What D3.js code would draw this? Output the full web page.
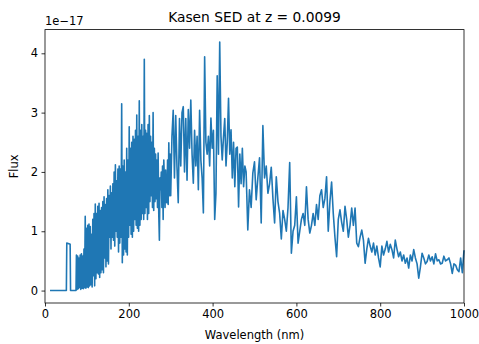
<!DOCTYPE html>
<html>
  <head>
    <meta charset="utf-8">
    <script src="https://d3js.org/d3.v7.min.js"></script>
    <style>
      body { margin: 0; background: #fff; }
      text { font-family: "DejaVu Sans", sans-serif; fill: #000; }
    </style>
  </head>
<body>
  <script type="text/javascript">
    "use strict";

    // wavelength in nm
    var wavelength = [
      12, 20, 30, 40, 51, 52, 57, 60, 61, 66, 70, 74,
      75, 76.5, 78, 79.5, 81, 82.5, 84, 85.5, 87, 88.5,
      90, 91.5, 93, 94.5, 96, 97.5, 99, 100.5, 102, 103.5,
      105, 106.5, 108, 109.5, 111, 112.5, 114, 115.5, 117, 118.5,
      120, 121.5, 123, 124.5, 126, 127.5, 129, 130.5, 132, 133.5,
      135, 136.5, 138, 139.5, 141, 142.5, 144, 145.5, 147, 148.5,
      150, 151.5, 153, 154.5, 156, 157.5, 159, 160.5, 162, 163.5,
      165, 166.5, 168, 169.5, 171, 172.5, 174, 175.5, 177, 178.5,
      180, 181.5, 183, 184.5, 186, 187.5, 189, 190.5, 192, 193.5,
      195, 196.5, 198, 199.5, 201, 202.5, 204, 205.5, 207, 208.5,
      210, 211.5, 213, 214.5, 216, 217.5, 219, 220.5, 222, 223.5,
      225, 226.5, 228, 229.5, 231, 232.5, 234, 235.5, 237, 238.5,
      240, 241.5, 243, 244.5, 246, 247.5, 249, 250.5, 252, 253.5,
      255, 256.5, 258, 259.5, 261, 262.5, 264, 265.5, 267, 268.5,
      270, 271.5, 273, 274.5, 276, 277.5, 279, 280.5, 282, 283.5,
      285, 286.5, 288, 289.5, 291, 292.5, 294, 295.5, 297, 298.5,
      300,
      303, 306, 309, 312, 315, 318, 321, 324, 327, 330,
      333, 336, 339, 342, 345, 348, 351, 354, 357, 360,
      363, 366, 369, 372, 375, 378, 381, 384, 387, 390,
      393, 396, 399, 402, 405, 408, 411, 414, 417, 420,
      423, 426, 429, 432, 435, 438, 441, 444, 447, 450,
      453, 456, 459, 462, 465, 468, 471, 474, 477,
      480, 484, 488, 492, 496, 500, 504, 508, 512, 516,
      520, 524, 528, 532, 536, 540, 544, 548, 552, 556,
      560, 564, 568, 572, 576, 580, 584, 588, 592, 596,
      600, 604, 608, 612, 616, 620, 624, 628, 632, 636,
      640, 644, 648, 652, 656, 660, 664, 668, 672, 676,
      680, 684, 688, 692, 696, 700, 704, 708, 712, 716,
      720, 724, 728, 732, 736, 740, 744, 748, 752, 756,
      760, 764, 768, 772, 776, 780, 784, 788, 792, 796,
      800, 804, 808, 812, 816, 820, 824, 828, 832, 836,
      840, 844, 848, 852, 856, 860, 864, 868, 872, 876,
      880, 884, 888, 892, 896, 900, 904, 908, 912, 916,
      920, 924, 928, 932, 936, 940, 944, 948, 952, 956,
      960, 964, 968, 972, 976, 980, 984, 988, 992, 996,
      1000
    ];

    // flux in units of 1e-17
    var flux = [
      0, 0, 0, 0, 0, 0.80, 0.79, 0.78, 0, 0, 0, 0,
      0.60, 0.02, 0.58, 0.03, 0.55, 0.05, 0.60, 0.02, 0.62, 0.04,
      0.58, 0.03, 0.70, 0.05, 1.25, 0.04, 1.05, 0.06, 1.10, 0.05,
      1.12, 0.08, 1.08, 0.10, 0.95, 0.06, 1.20, 0.25, 1.30, 0.08,
      1.46, 0.20, 1.30, 0.30, 1.42, 0.28, 1.47, 0.22, 1.35, 0.30,
      1.40, 0.35, 1.50, 0.30, 1.58, 0.55, 1.45, 0.40, 1.55, 0.50,
      1.70, 0.45, 1.60, 0.90, 1.76, 0.70, 1.65, 0.90, 1.80, 0.85,
      2.00, 0.75, 2.12, 1.00, 1.85, 0.90, 2.05, 0.65, 2.10, 0.80,
      2.05, 0.90, 3.15, 0.47, 2.10, 0.60, 2.20, 0.70, 2.00, 0.65,
      2.40, 0.60, 2.20, 0.90, 2.76, 1.10, 2.40, 0.95, 2.50, 0.90,
      2.60, 1.00, 2.55, 1.20, 2.70, 1.10, 2.96, 1.05, 2.60, 1.00,
      3.20, 1.10, 2.70, 1.20, 2.80, 1.30, 2.60, 1.20, 3.90, 1.30,
      2.70, 1.40, 2.65, 1.20, 2.80, 1.30, 2.95, 1.50, 2.60, 1.60,
      2.50, 1.40, 3.00, 1.35, 2.40, 1.50, 2.30, 1.55, 2.20, 1.40,
      2.32, 1.30, 0.85, 1.90, 1.70, 2.00, 1.40, 2.10, 1.20, 2.20,
      1.86, 1.40, 2.03, 1.50, 1.48, 2.20, 1.45, 2.49, 1.60, 2.30,
      1.60,
      2.60, 3.04, 1.90, 2.95, 2.08, 1.48, 2.90, 2.10, 3.00, 3.10,
      2.00, 2.90, 1.86, 3.05, 2.40, 3.21, 2.30, 1.81, 2.70, 2.10,
      2.60, 1.70, 3.04, 2.20, 1.90, 1.31, 3.94, 2.50, 2.30, 2.60,
      2.10, 2.91, 2.40, 2.70, 1.20, 1.64, 3.62, 2.30, 4.19, 2.60,
      2.20, 2.59, 2.90, 2.10, 2.50, 3.24, 2.30, 2.71, 1.90, 2.50,
      1.75, 2.40, 2.42, 1.41, 2.30, 1.80, 2.40, 1.75, 2.10,
      2.00, 1.02, 1.70, 1.40, 1.98, 2.17, 1.53, 1.90, 2.24, 1.14,
      2.78, 1.90, 2.10, 1.64, 1.80, 2.08, 1.55, 1.14, 1.92, 1.50,
      1.30, 0.87, 1.35, 1.20, 1.00, 1.40, 2.16, 0.63, 1.00, 1.10,
      1.58, 0.80, 1.00, 1.20, 1.30, 1.10, 1.75, 1.20, 0.97, 1.10,
      1.30, 1.10, 1.45, 1.20, 1.60, 1.70, 1.40, 1.55, 1.92, 1.00,
      1.50, 1.83, 1.30, 0.90, 0.57, 1.20, 1.36, 1.15, 1.00, 1.42,
      1.20, 0.90, 1.10, 1.39, 1.10, 1.39, 0.80, 0.74, 0.90, 1.02,
      0.85, 0.46, 0.70, 0.88, 0.75, 0.65, 0.80, 0.60, 0.75, 0.55,
      0.40, 0.75, 0.60, 0.70, 0.83, 0.65, 0.78, 0.69, 0.55, 0.85,
      0.70, 0.57, 0.65, 0.50, 0.60, 0.46, 0.55, 0.38, 0.60, 0.50,
      0.69, 0.55, 0.45, 0.21, 0.40, 0.63, 0.55, 0.45, 0.49, 0.60,
      0.50, 0.57, 0.45, 0.62, 0.50, 0.52, 0.45, 0.46, 0.58, 0.50,
      0.52, 0.55, 0.45, 0.29, 0.45, 0.43, 0.35, 0.32, 0.55, 0.30,
      0.68
    ];

    var xTicks = [0, 200, 400, 600, 800, 1000];
    var yTicks = [0, 1, 2, 3, 4];

    var width = 479,
        height = 344,
        plotLeft = 45, plotRight = 464, plotTop = 29.6, plotBottom = 303;

    var svg = d3.select("body")
        .append("svg")
          .attr("width", width)
          .attr("height", height);

    var x = d3.scaleLinear().domain([0, 1000]).range([plotLeft, plotRight]);
    var y = d3.scaleLinear().domain([-0.2095, 4.3995]).range([plotBottom, plotTop]);

    var points = wavelength.map(function (w, i) { return [w, flux[i]]; });

    var line = d3.line()
        .x(function (d) { return x(d[0]); })
        .y(function (d) { return y(d[1]); });

    svg.append("path")
        .datum(points)
        .attr("fill", "none")
        .attr("stroke", "#1f77b4")
        .attr("stroke-width", 1.6)
        .attr("stroke-linejoin", "round")
        .attr("d", line);

    // frame
    svg.append("rect")
        .attr("x", plotLeft)
        .attr("y", plotTop)
        .attr("width", plotRight - plotLeft)
        .attr("height", plotBottom - plotTop)
        .attr("fill", "none")
        .attr("stroke", "#000")
        .attr("stroke-width", 0.8);

    var fmt = d3.format("d");
    var xAxis = svg.append("g")
        .attr("transform", "translate(0," + plotBottom + ")")
        .call(d3.axisBottom(x).tickValues(xTicks).tickFormat(fmt).tickSize(3.5).tickPadding(3.5));
    var yAxis = svg.append("g")
        .attr("transform", "translate(" + plotLeft + ",0)")
        .call(d3.axisLeft(y).tickValues(yTicks).tickFormat(fmt).tickSize(3.5).tickPadding(3.5));

    [xAxis, yAxis].forEach(function (g) {
      g.select(".domain").remove();
      g.selectAll(".tick line").attr("stroke", "#000").attr("stroke-width", 0.8);
      g.selectAll(".tick text")
          .style("font-family", "DejaVu Sans, sans-serif")
          .style("font-size", "11.5px")
          .attr("fill", "#000");
    });

    svg.append("text")
        .attr("x", (plotLeft + plotRight) / 2)
        .attr("y", 22)
        .attr("text-anchor", "middle")
        .style("font-size", "13.8px")
        .text("Kasen SED at z = 0.0099");

    svg.append("text")
        .attr("x", plotLeft)
        .attr("y", 25)
        .style("font-size", "11.5px")
        .text("1e\u221217");

    svg.append("text")
        .attr("x", (plotLeft + plotRight) / 2)
        .attr("y", 339)
        .attr("text-anchor", "middle")
        .style("font-size", "11.5px")
        .text("Wavelength (nm)");

    svg.append("text")
        .attr("transform", "translate(18," + ((plotTop + plotBottom) / 2) + ") rotate(-90)")
        .attr("text-anchor", "middle")
        .style("font-size", "11.5px")
        .text("Flux");
  </script>
</body>
</html>
